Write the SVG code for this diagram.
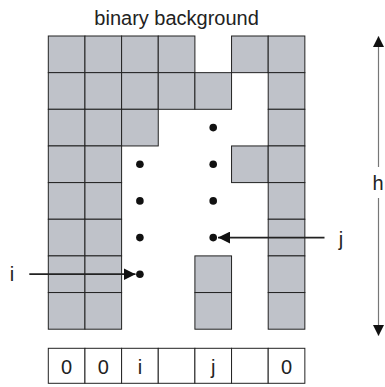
<svg xmlns="http://www.w3.org/2000/svg" width="385" height="387" viewBox="0 0 385 387">
  <defs>
    <style>
      .cell { fill: #bfc2c9; stroke: #222; stroke-width: 1; }
      .slot { fill: #fff; stroke: #222; stroke-width: 1; }
      .dot { fill: #111; }
      .txt { font-family: "Liberation Sans", Arial, sans-serif; font-size: 20px; fill: #222; }
      .mid { text-anchor: middle; }
      .ptr { stroke: #222; stroke-width: 1.8; fill: none; }
      .dim { stroke: #777; stroke-width: 1.2; fill: none; }
    </style>
    <marker id="head" viewBox="0 0 12 12" refX="12" refY="6" markerWidth="12" markerHeight="12" markerUnits="userSpaceOnUse" orient="auto">
      <path d="M0,0 L12,6 L0,12 Z" fill="#111"/>
    </marker>
    <marker id="headDim" viewBox="0 0 10 12" refX="12" refY="6" markerWidth="11" markerHeight="11" markerUnits="userSpaceOnUse" orient="auto">
      <path d="M0,0 L12,6 L0,12 Z" fill="#111"/>
    </marker>
  </defs>

  <text id="title" class="txt mid" x="176.6" y="25">binary background</text>

  <!-- background pixels, 7 columns x 8 rows, cell 36.65 -->
  <g id="background">
    <!-- row 0 -->
    <rect class="cell" x="48.3" y="36" width="36.65" height="36.65"/>
    <rect class="cell" x="84.95" y="36" width="36.65" height="36.65"/>
    <rect class="cell" x="121.6" y="36" width="36.65" height="36.65"/>
    <rect class="cell" x="158.25" y="36" width="36.65" height="36.65"/>
    <rect class="cell" x="231.55" y="36" width="36.65" height="36.65"/>
    <rect class="cell" x="268.2" y="36" width="36.65" height="36.65"/>
    <!-- row 1 -->
    <rect class="cell" x="48.3" y="72.65" width="36.65" height="36.65"/>
    <rect class="cell" x="84.95" y="72.65" width="36.65" height="36.65"/>
    <rect class="cell" x="121.6" y="72.65" width="36.65" height="36.65"/>
    <rect class="cell" x="158.25" y="72.65" width="36.65" height="36.65"/>
    <rect class="cell" x="194.9" y="72.65" width="36.65" height="36.65"/>
    <rect class="cell" x="268.2" y="72.65" width="36.65" height="36.65"/>
    <!-- row 2 -->
    <rect class="cell" x="48.3" y="109.3" width="36.65" height="36.65"/>
    <rect class="cell" x="84.95" y="109.3" width="36.65" height="36.65"/>
    <rect class="cell" x="121.6" y="109.3" width="36.65" height="36.65"/>
    <rect class="cell" x="268.2" y="109.3" width="36.65" height="36.65"/>
    <!-- row 3 -->
    <rect class="cell" x="48.3" y="145.95" width="36.65" height="36.65"/>
    <rect class="cell" x="84.95" y="145.95" width="36.65" height="36.65"/>
    <rect class="cell" x="231.55" y="145.95" width="36.65" height="36.65"/>
    <rect class="cell" x="268.2" y="145.95" width="36.65" height="36.65"/>
    <!-- row 4 -->
    <rect class="cell" x="48.3" y="182.6" width="36.65" height="36.65"/>
    <rect class="cell" x="84.95" y="182.6" width="36.65" height="36.65"/>
    <rect class="cell" x="268.2" y="182.6" width="36.65" height="36.65"/>
    <!-- row 5 -->
    <rect class="cell" x="48.3" y="219.25" width="36.65" height="36.65"/>
    <rect class="cell" x="84.95" y="219.25" width="36.65" height="36.65"/>
    <rect class="cell" x="268.2" y="219.25" width="36.65" height="36.65"/>
    <!-- row 6 -->
    <rect class="cell" x="48.3" y="255.9" width="36.65" height="36.65"/>
    <rect class="cell" x="84.95" y="255.9" width="36.65" height="36.65"/>
    <rect class="cell" x="194.9" y="255.9" width="36.65" height="36.65"/>
    <rect class="cell" x="268.2" y="255.9" width="36.65" height="36.65"/>
    <!-- row 7 -->
    <rect class="cell" x="48.3" y="292.55" width="36.65" height="36.65"/>
    <rect class="cell" x="84.95" y="292.55" width="36.65" height="36.65"/>
    <rect class="cell" x="194.9" y="292.55" width="36.65" height="36.65"/>
    <rect class="cell" x="268.2" y="292.55" width="36.65" height="36.65"/>
  </g>

  <!-- free pixels in columns i and j -->
  <g id="points">
    <circle class="dot" cx="139.9" cy="164.3" r="3.8"/>
    <circle class="dot" cx="139.9" cy="200.9" r="3.8"/>
    <circle class="dot" cx="139.9" cy="237.6" r="3.8"/>
    <circle class="dot" cx="139.9" cy="274.2" r="3.8"/>
    <circle class="dot" cx="213.2" cy="127.6" r="3.8"/>
    <circle class="dot" cx="213.2" cy="164.3" r="3.8"/>
    <circle class="dot" cx="213.2" cy="200.9" r="3.8"/>
    <circle class="dot" cx="213.2" cy="237.6" r="3.8"/>
  </g>

  <g id="connectors">
    <line id="arrow-i" class="ptr" x1="29.3" y1="274.2" x2="135.5" y2="274.2" marker-end="url(#head)"/>
    <line id="arrow-j" class="ptr" x1="324.5" y1="237.6" x2="218" y2="237.6" marker-end="url(#head)"/>
    <line id="h-up" class="dim" x1="378.5" y1="167" x2="378.5" y2="36" marker-end="url(#headDim)"/>
    <line id="h-down" class="dim" x1="378.5" y1="198" x2="378.5" y2="336" marker-end="url(#headDim)"/>
  </g>

  <g id="labels">
    <text class="txt mid" x="12" y="281">i</text>
    <text class="txt mid" x="341" y="246">j</text>
    <text class="txt mid" x="378" y="190">h</text>
  </g>

  <!-- output row -->
  <g id="row">
    <rect class="slot" x="48.3" y="348.3" width="36.65" height="35"/>
    <rect class="slot" x="84.95" y="348.3" width="36.65" height="35"/>
    <rect class="slot" x="121.6" y="348.3" width="36.65" height="35"/>
    <rect class="slot" x="158.25" y="348.3" width="36.65" height="35"/>
    <rect class="slot" x="194.9" y="348.3" width="36.65" height="35"/>
    <rect class="slot" x="231.55" y="348.3" width="36.65" height="35"/>
    <rect class="slot" x="268.2" y="348.3" width="36.65" height="35"/>
    <text class="txt mid" x="66.6" y="374">0</text>
    <text class="txt mid" x="103.3" y="374">0</text>
    <text class="txt mid" x="139.9" y="374">i</text>
    <text class="txt mid" x="213.2" y="374">j</text>
    <text class="txt mid" x="286.5" y="374">0</text>
  </g>
</svg>
